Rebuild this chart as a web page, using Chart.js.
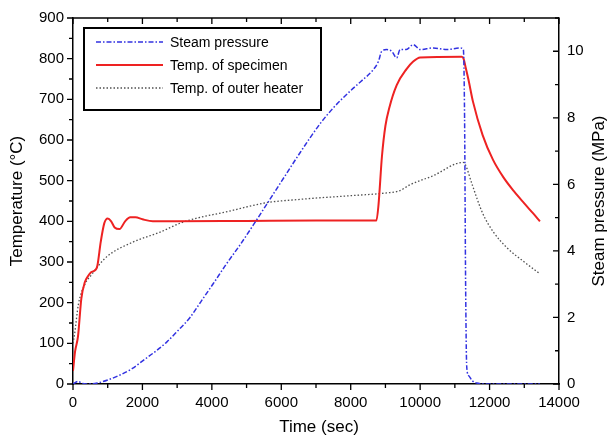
<!DOCTYPE html>
<html>
<head>
<meta charset="utf-8">
<script src="https://cdn.jsdelivr.net/npm/chart.js@4.4.1/dist/chart.umd.min.js"></script>
<style>
  html, body { margin: 0; padding: 0; background: #fff; }
  #wrap { width: 609px; height: 437px; }
</style>
</head>
<body>
<div id="wrap"><canvas id="graph" width="609" height="437"></canvas></div>
<script>
// steam pressure (MPa), right axis
var steamTime = [0, 150, 250, 400, 700, 1000, 1354, 1700, 2026, 2400, 2699, 3000, 3371, 3700, 4043, 4400, 4811, 5195, 5579, 6000, 6540, 7116, 7500, 7980, 8300, 8652, 8800, 8893, 9037, 9181, 9325, 9421, 9600, 9804, 9997, 10380, 10765, 11150, 11245, 11280, 11310, 11342, 11400, 11500, 11630, 12000, 13450]
var steamVals = [0, 0.08, 0.02, 0, 0.03, 0.12, 0.27, 0.46, 0.71, 1.0, 1.26, 1.58, 2.0, 2.5, 3.02, 3.58, 4.18, 4.78, 5.4, 6.08, 6.95, 7.82, 8.3, 8.8, 9.1, 9.45, 9.7, 10.0, 10.05, 10.0, 9.8, 10.05, 10.05, 10.2, 10.05, 10.1, 10.05, 10.1, 10.05, 8.0, 3.0, 0.52, 0.25, 0.1, 0.03, 0, 0]

// temperature of specimen (°C)
var specTime = [0, 60, 144, 240, 340, 430, 520, 640, 700, 800, 900, 1000, 1100, 1200, 1340, 1500, 1650, 1800, 2000, 2300, 3000, 5000, 7000, 8740, 8800, 8900, 9000, 9114, 9325, 9613, 9800, 10000, 11200, 11250, 11320, 11400, 11520, 11800, 12100, 12400, 12700, 13000, 13250, 13450]
var specVals = [32, 80, 117, 210, 250, 265, 275, 280, 290, 350, 395, 407, 400, 385, 381, 400, 410, 410, 405, 400, 400, 401, 402, 402, 440, 560, 635, 680, 735, 775, 793, 803, 805, 800, 775, 745, 695, 612, 551, 508, 474, 444, 420, 400]

// temperature of outer heater (°C)
var heaterTime = [0, 48, 154, 336, 528, 960, 1728, 2496, 3168, 4500, 5590, 6540, 7120, 8000, 9040, 9400, 9710, 10370, 11240, 11300, 11500, 11800, 12100, 12500, 13000, 13450]
var heaterVals = [100, 124, 195, 244, 268, 312, 349, 373, 398, 425, 446, 454, 458, 463, 470, 475, 490, 512, 545, 540, 490, 420, 375, 335, 300, 271]

var legendNames = ["Steam pressure", "Temp. of specimen", "Temp. of outer heater"]

function pts(t, v) {
  var out = []
  for (var i = 0; i < t.length; i++) out.push({x: t[i], y: v[i]})
  return out
}

Chart.defaults.font.family = "'Liberation Sans', Arial, sans-serif"
Chart.defaults.color = "#000"

var FONT = "'Liberation Sans', Arial, sans-serif"

// ticks, frame, titles and the boxed legend
var decor = {
  id: 'decor',
  afterDraw: function(chart) {
    var ctx = chart.ctx
    var a = chart.chartArea
    var sx = chart.scales.x, sy = chart.scales.y, sy1 = chart.scales.y1
    ctx.save()
    ctx.strokeStyle = '#000'
    ctx.lineWidth = 1.5
    // top frame line
    ctx.beginPath()
    ctx.moveTo(a.left, a.top)
    ctx.lineTo(a.right, a.top)
    ctx.stroke()
    ctx.lineWidth = 1.3
    ctx.beginPath()
    for (var t = 0; t <= 14000; t += 1000) {
      var px = sx.getPixelForValue(t)
      var len = (t % 2000 === 0) ? 6 : 4
      ctx.moveTo(px, a.bottom); ctx.lineTo(px, a.bottom + len)
      ctx.moveTo(px, a.top); ctx.lineTo(px, a.top + len)
    }
    for (var v = 0; v <= 900; v += 50) {
      var py = sy.getPixelForValue(v)
      var l2 = (v % 100 === 0) ? 6 : 4
      ctx.moveTo(a.left, py); ctx.lineTo(a.left - l2, py)
    }
    for (var p = 0; p <= 11; p += 1) {
      var py1 = sy1.getPixelForValue(p)
      var l3 = (p % 2 === 0) ? 6 : 4
      ctx.moveTo(a.right, py1); ctx.lineTo(a.right - l3, py1)
    }
    ctx.stroke()

    // axis titles
    ctx.fillStyle = '#000'
    ctx.font = "17px " + FONT
    ctx.textAlign = 'center'
    ctx.textBaseline = 'middle'
    ctx.fillText('Time (sec)', (a.left + a.right) / 2 + 3, 427)
    ctx.save()
    ctx.translate(17, (a.top + a.bottom) / 2)
    ctx.rotate(-Math.PI / 2)
    ctx.fillText('Temperature (°C)', 0, 0)
    ctx.restore()
    ctx.save()
    ctx.translate(599, (a.top + a.bottom) / 2)
    ctx.rotate(-Math.PI / 2)
    ctx.fillText('Steam pressure (MPa)', 0, 0)
    ctx.restore()

    // legend box
    var bx = 84, by = 28, bw = 237, bh = 82
    ctx.fillStyle = '#fff'
    ctx.fillRect(bx, by, bw, bh)
    ctx.lineWidth = 2
    ctx.strokeRect(bx, by, bw, bh)
    var rows = [42, 65, 88]
    ctx.font = "14px " + FONT
    ctx.textAlign = 'left'
    for (var i = 0; i < 3; i++) {
      var ds = chart.data.datasets[i]
      ctx.save()
      ctx.strokeStyle = ds.borderColor
      ctx.lineWidth = ds.borderWidth
      ctx.setLineDash(ds.borderDash || [])
      ctx.beginPath()
      ctx.moveTo(96, rows[i]); ctx.lineTo(163, rows[i])
      ctx.stroke()
      ctx.restore()
      ctx.fillStyle = '#000'
      ctx.fillText(ds.label, 170, rows[i] + 1)
    }
    ctx.restore()
  }
}

new Chart(document.getElementById('graph'), {
  type: 'line',
  data: {
    datasets: [{
      label: legendNames[0],
      data: pts(steamTime, steamVals),
      yAxisID: 'y1',
      borderColor: 'rgb(50, 50, 225)',
      borderWidth: 1.5,
      borderDash: [5, 2, 1.5, 2],
      pointRadius: 0,
      cubicInterpolationMode: 'monotone'
    }, {
      label: legendNames[1],
      data: pts(specTime, specVals),
      yAxisID: 'y',
      borderColor: 'rgb(238, 34, 34)',
      borderWidth: 2,
      pointRadius: 0,
      cubicInterpolationMode: 'monotone'
    }, {
      label: legendNames[2],
      data: pts(heaterTime, heaterVals),
      yAxisID: 'y',
      borderColor: 'rgb(80, 80, 80)',
      borderWidth: 1.3,
      borderDash: [1.5, 2],
      pointRadius: 0,
      cubicInterpolationMode: 'monotone'
    }]
  },
  options: {
    responsive: false,
    animation: false,
    layout: { padding: { top: 15, left: 0, right: 0, bottom: 0 } },
    plugins: { legend: { display: false }, tooltip: { enabled: false } },
    scales: {
      x: {
        type: 'linear', min: 0, max: 14000,
        grid: { display: false, drawTicks: false },
        border: { display: true, color: '#000', width: 1.5 },
        ticks: { stepSize: 2000, padding: 10, font: { size: 15 }, maxRotation: 0,
                 callback: function(v) { return String(v) } },
        afterFit: function(s) { s.height = 53 }
      },
      y: {
        position: 'left', min: 0, max: 900,
        grid: { display: false, drawTicks: false },
        border: { display: true, color: '#000', width: 1.5 },
        ticks: { stepSize: 100, padding: 9, font: { size: 15 } },
        afterFit: function(s) { s.width = 73 }
      },
      y1: {
        position: 'right', min: 0, max: 11,
        grid: { display: false, drawTicks: false },
        border: { display: true, color: '#000', width: 1.5 },
        ticks: { stepSize: 2, padding: 8, font: { size: 15 } },
        afterBuildTicks: function(s) { s.ticks = s.ticks.filter(function(t) { return t.value % 2 === 0 }) },
        afterFit: function(s) { s.width = 50 }
      }
    }
  },
  plugins: [decor]
})
</script>
</body>
</html>
